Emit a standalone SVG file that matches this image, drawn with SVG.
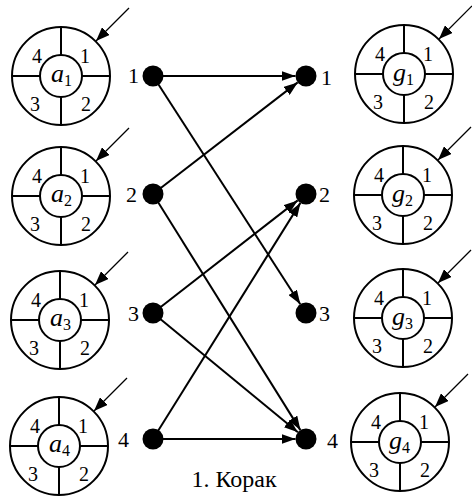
<svg xmlns="http://www.w3.org/2000/svg" width="472" height="500" viewBox="0 0 472 500">
<defs>
<style>
text{font-family:"Liberation Serif","Times New Roman",Times,"Tinos","Noto Serif","DejaVu Serif",serif;fill:#000}
.ring{fill:#fff;stroke:#000;stroke-width:2}
.sp{stroke:#000;stroke-width:2}
.q{font-size:20px;text-anchor:middle;font-style:normal}
.lbl{font-size:22px}
.c{font-size:26px;font-style:italic}
.sub{font-size:16px;font-style:normal}
.ptr{stroke:#000;stroke-width:1.2;fill:none;marker-end:url(#ah2)}
.con{stroke:#000;stroke-width:2;fill:none;marker-end:url(#ah)}
.dot{fill:#000}
</style>
<marker id="ah" markerUnits="userSpaceOnUse" markerWidth="14" markerHeight="10" refX="14" refY="5" orient="auto">
<path d="M0,0 L14,5 L0,10 z" fill="#000"/>
</marker>
<marker id="ah2" markerUnits="userSpaceOnUse" markerWidth="14" markerHeight="11" refX="14" refY="5.5" orient="auto">
<path d="M0,0 L14,5.5 L0,11 z" fill="#000"/>
</marker>
<g id="wheel">
<circle class="ring" r="49"/>
<line class="sp" x1="0" y1="-49" x2="0" y2="-21"/>
<line class="sp" x1="0" y1="21" x2="0" y2="49"/>
<line class="sp" x1="-49" y1="0" x2="-21" y2="0"/>
<line class="sp" x1="21" y1="0" x2="49" y2="0"/>
<circle class="ring" r="21"/>
<text class="q" x="-24" y="-13">4</text>
<text class="q" x="24" y="-13">1</text>
<text class="q" x="-26" y="35">3</text>
<text class="q" x="25" y="35">2</text>
<line class="ptr" x1="68" y1="-68" x2="35" y2="-35"/>
</g>
</defs>

<g id="a1" transform="translate(61,76)"><use href="#wheel"/><text class="c" x="-10" y="6">a<tspan class="sub" dy="4">1</tspan></text></g>
<g id="a2" transform="translate(61,196)"><use href="#wheel"/><text class="c" x="-10" y="6">a<tspan class="sub" dy="4">2</tspan></text></g>
<g id="a3" transform="translate(60,320)"><use href="#wheel"/><text class="c" x="-10" y="6">a<tspan class="sub" dy="4">3</tspan></text></g>
<g id="a4" transform="translate(59,446)"><use href="#wheel"/><text class="c" x="-10" y="6">a<tspan class="sub" dy="4">4</tspan></text></g>
<g id="g1" transform="translate(404,74)"><use href="#wheel"/><text class="c" x="-11" y="7">g<tspan class="sub" dy="4">1</tspan></text></g>
<g id="g2" transform="translate(403,195)"><use href="#wheel"/><text class="c" x="-11" y="7">g<tspan class="sub" dy="4">2</tspan></text></g>
<g id="g3" transform="translate(403,318)"><use href="#wheel"/><text class="c" x="-11" y="7">g<tspan class="sub" dy="4">3</tspan></text></g>
<g id="g4" transform="translate(400,442)"><use href="#wheel"/><text class="c" x="-11" y="7">g<tspan class="sub" dy="4">4</tspan></text></g>

<g id="connectors">
<line class="con" x1="153" y1="76" x2="295.5" y2="76"/>
<line class="con" x1="153" y1="76" x2="300.3" y2="304.2"/>
<line class="con" x1="153" y1="194" x2="297.7" y2="82.4"/>
<line class="con" x1="153" y1="194" x2="300.4" y2="430.1"/>
<line class="con" x1="153" y1="313" x2="297.7" y2="200.4"/>
<line class="con" x1="153" y1="313" x2="297.9" y2="432.3"/>
<line class="con" x1="153" y1="439" x2="300.4" y2="202.9"/>
<line class="con" x1="153" y1="439" x2="295.5" y2="439"/>
</g>

<g id="L1"><circle class="dot" cx="153" cy="76" r="10.5"/><text class="lbl" x="128" y="83">1</text></g>
<g id="L2"><circle class="dot" cx="153" cy="194" r="10.5"/><text class="lbl" x="126" y="202">2</text></g>
<g id="L3"><circle class="dot" cx="153" cy="313" r="10.5"/><text class="lbl" x="128" y="321">3</text></g>
<g id="L4"><circle class="dot" cx="153" cy="439" r="10.5"/><text class="lbl" x="118" y="447">4</text></g>
<g id="R1"><circle class="dot" cx="306" cy="76" r="10.5"/><text class="lbl" x="321" y="85">1</text></g>
<g id="R2"><circle class="dot" cx="306" cy="194" r="10.5"/><text class="lbl" x="319" y="202">2</text></g>
<g id="R3"><circle class="dot" cx="306" cy="313" r="10.5"/><text class="lbl" x="319" y="321">3</text></g>
<g id="R4"><circle class="dot" cx="306" cy="439" r="10.5"/><text class="lbl" x="327" y="448">4</text></g>

<text id="title" x="234" y="487" text-anchor="middle" font-size="24">1. Корак</text>
</svg>
